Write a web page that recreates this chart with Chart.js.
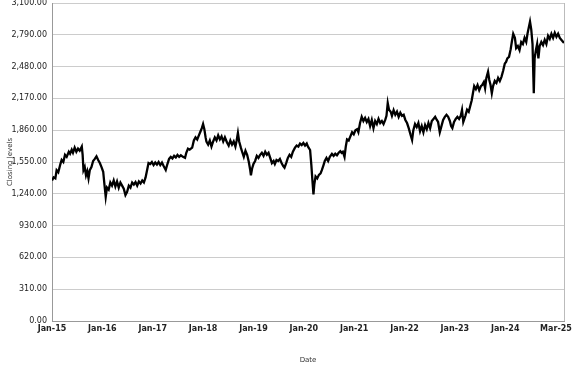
<!DOCTYPE html>
<html>
<head>
<meta charset="utf-8">
<script src="https://cdn.jsdelivr.net/npm/chart.js@4/dist/chart.umd.min.js"></script>
<style>
    html, body { margin: 0; padding: 0; background: #fff; }
    #wrap { width: 577px; height: 367px; position: relative; }
</style>
</head>
<body>
<div id="wrap"><canvas id="closing_chart"></canvas></div>
<script>
    // months counted from Jan-15 (0) to Mar-25 (122)
    var monthsSinceJan15 = [
        0, 0.4, 0.8, 1.1, 1.5, 2.0, 2.3, 2.7, 3.1, 3.5, 4.0, 4.3, 4.7, 5.0, 5.4, 5.8, 6.2, 6.6, 7.1, 7.3,
        7.5, 7.8, 8.1, 8.4, 8.7, 9.0, 9.4, 9.8, 10.2, 10.6, 11.0, 11.4, 11.8, 12.2, 12.5, 12.8, 13.1, 13.5, 13.9, 14.3,
        14.7, 15.1, 15.5, 15.9, 16.3, 16.7, 17.1, 17.5, 17.9, 18.3, 18.7, 19.1, 19.5, 19.9, 20.3, 20.7, 21.1, 21.5, 21.9, 22.3,
        22.7, 23.0, 23.4, 23.8, 24.2, 24.6, 25.0, 25.4, 25.8, 26.2, 26.6, 27.1, 27.5, 27.9, 28.3, 28.7, 29.1, 29.5, 29.9, 30.3,
        30.7, 31.2, 31.7, 32.0, 32.4, 32.8, 33.4, 33.8, 34.2, 34.6, 35.0, 35.4, 35.7, 36.0, 36.3, 36.6, 36.8, 37.2, 37.6, 38.0,
        38.4, 38.8, 39.2, 39.6, 40.0, 40.4, 40.8, 41.2, 41.7, 42.1, 42.5, 42.9, 43.3, 43.7, 44.0, 44.3, 44.6, 45.0, 45.3, 45.7,
        46.1, 46.5, 46.9, 47.2, 47.4, 47.7, 48.0, 48.4, 48.8, 49.2, 49.6, 50.0, 50.4, 50.8, 51.2, 51.6, 52.0, 52.4, 52.8, 53.1,
        53.5, 53.9, 54.3, 54.7, 55.1, 55.4, 55.8, 56.2, 56.6, 57.0, 57.4, 57.9, 58.3, 58.7, 59.1, 59.5, 59.9, 60.3, 60.7, 61.0,
        61.5, 61.8, 62.0, 62.3, 62.5, 62.8, 63.2, 63.6, 64.0, 64.3, 64.7, 65.0, 65.4, 65.8, 66.2, 66.7, 67.1, 67.5, 67.9, 68.3,
        68.7, 69.0, 69.3, 69.7, 70.0, 70.3, 70.7, 71.0, 71.5, 71.9, 72.3, 72.7, 73.0, 73.4, 73.8, 74.2, 74.6, 75.0, 75.4, 75.8,
        76.2, 76.6, 77.0, 77.4, 77.8, 78.2, 78.6, 79.0, 79.4, 79.7, 80.0, 80.3, 80.7, 81.0, 81.4, 81.8, 82.2, 82.6, 83.0, 83.4,
        83.8, 84.2, 84.6, 85.0, 85.4, 85.8, 86.1, 86.5, 86.9, 87.3, 87.7, 88.1, 88.5, 88.9, 89.3, 89.7, 90.1, 90.5, 90.9, 91.3,
        91.7, 92.0, 92.4, 92.8, 93.2, 93.6, 94.0, 94.4, 94.8, 95.1, 95.4, 95.8, 96.2, 96.6, 97.0, 97.4, 97.7, 98.0, 98.5, 98.9,
        99.3, 99.6, 100.0, 100.3, 100.6, 101.0, 101.4, 101.8, 102.2, 102.5, 102.9, 103.2, 103.5, 103.9, 104.2, 104.5, 104.8, 105.1, 105.5, 105.9,
        106.3, 106.7, 107.1, 107.5, 107.9, 108.2, 108.5, 108.9, 109.3, 109.6, 109.9, 110.3, 110.6, 111.0, 111.4, 111.8, 112.2, 112.6, 113.0, 113.3,
        113.6, 113.9, 114.2, 114.5, 114.7, 114.8, 115.0, 115.3, 115.6, 115.9, 116.2, 116.6, 117.0, 117.4, 117.8, 118.2, 118.6, 119.0, 119.4, 119.8,
        120.2, 120.6, 121.0, 121.4, 121.8, 122.0
    ];

    var closingLevels = [
        1370, 1400, 1390, 1470, 1450, 1530, 1570, 1550, 1620, 1600, 1650, 1630, 1670, 1640, 1690, 1650, 1680, 1660, 1700, 1620,
        1470, 1500, 1420, 1460, 1390, 1470, 1500, 1560, 1580, 1605, 1570, 1540, 1500, 1455, 1330, 1210, 1300, 1280, 1350, 1320,
        1370, 1310, 1360, 1300, 1350, 1320, 1290, 1228, 1260, 1320, 1300, 1350, 1330, 1355, 1320, 1360, 1340, 1370, 1350, 1400,
        1480, 1540, 1530, 1550, 1520, 1545, 1525, 1550, 1520, 1545, 1510, 1472, 1530, 1580, 1600, 1585, 1610, 1595, 1620, 1600,
        1615, 1600, 1590, 1640, 1680, 1670, 1690, 1760, 1790, 1770, 1810, 1850, 1880, 1920, 1870, 1790, 1748, 1720, 1760, 1700,
        1750, 1790, 1760, 1810, 1770, 1800, 1750, 1790, 1740, 1710, 1760, 1720, 1750, 1700, 1760, 1833, 1750, 1690, 1650, 1600,
        1660, 1620, 1550, 1480, 1420, 1490, 1530, 1560, 1610, 1590, 1620, 1640, 1610, 1650, 1620, 1640, 1590, 1540, 1560, 1530,
        1570, 1560, 1580, 1540, 1510, 1495, 1540, 1590, 1620, 1600, 1650, 1690, 1710, 1700, 1730, 1715, 1735, 1710, 1730, 1700,
        1667, 1520, 1400, 1235, 1330, 1410, 1390, 1425, 1440, 1470, 1520, 1560, 1590, 1560, 1600, 1630, 1610, 1630, 1615, 1640,
        1655, 1640, 1650, 1600, 1700, 1770, 1760, 1790, 1840, 1820, 1860, 1870, 1840, 1930, 1990, 1950, 1980, 1940, 1970, 1900,
        1960, 1880, 1950, 1920, 1970, 1930, 1950, 1920, 1960, 2000, 2125, 2060, 2040, 2000, 2055, 2010, 2040, 1990, 2030, 2000,
        2010, 1960, 1930, 1880, 1820, 1765, 1860, 1920, 1890, 1930, 1850, 1900, 1840, 1910, 1870, 1930, 1880, 1950, 1970, 1990,
        1960, 1940, 1840, 1900, 1960, 1990, 2010, 1990, 1950, 1900, 1880, 1940, 1970, 1990, 1970, 2000, 2057, 1940, 2000, 2060,
        2040, 2086, 2150, 2220, 2290, 2260, 2300, 2250, 2290, 2300, 2330, 2270, 2370, 2430, 2350, 2300, 2220, 2290, 2340, 2320,
        2370, 2340, 2380, 2440, 2510, 2525, 2560, 2575, 2650, 2730, 2800, 2760, 2660, 2680, 2640, 2720, 2700, 2760, 2720, 2800,
        2860, 2918, 2840, 2700, 2380, 2220, 2560, 2640, 2700, 2560, 2680, 2720, 2690, 2740, 2700, 2780, 2750, 2800, 2760, 2810,
        2770, 2800, 2760, 2740, 2720, 2730
    ];

    var tickMonths = [0, 12, 24, 36, 48, 60, 72, 84, 96, 108, 122];
    var tickLabels = ['Jan-15', 'Jan-16', 'Jan-17', 'Jan-18', 'Jan-19', 'Jan-20', 'Jan-21', 'Jan-22', 'Jan-23', 'Jan-24', 'Mar-25'];

    var points = monthsSinceJan15.map(function (m, i) {
        return { x: m, y: closingLevels[i] };
    });

    var canvas = document.getElementById('closing_chart');
    new Chart(canvas, {
        type: 'line',
        data: {
            datasets: [{
                label: 'Closing levels',
                data: points,
                borderColor: '#000',
                borderWidth: 2.3,
                pointRadius: 0,
                tension: 0,
                fill: false,
            }]
        },
        options: {
            responsive: true,
            maintainAspectRatio: false,
            animation: false,
            layout: { padding: { top: 3, right: 13, left: 0, bottom: 0 } },
            plugins: {
                legend: { display: false },
                tooltip: { enabled: false },
            },
            scales: {
                x: {
                    type: 'linear',
                    min: 0,
                    max: 122,
                    afterBuildTicks: function (axis) {
                        axis.ticks = tickMonths.map(function (v) { return { value: v }; });
                    },
                    afterFit: function (scale) {
                        scale.height = 46;
                        // don't let the end labels push the plot inwards
                        scale.paddingLeft = 0;
                        scale.paddingRight = 0;
                    },
                    grid: {
                        drawTicks: false,
                        color: function (ctx) {
                            return ctx.index === tickMonths.length - 1 ? '#bbb' : 'rgba(0,0,0,0)';
                        },
                    },
                    border: { color: '#999', width: 1 },
                    ticks: {
                        autoSkip: false,
                        maxRotation: 0,
                        padding: 3,
                        color: '#222',
                        font: { family: 'DejaVu Sans', size: 8, weight: 'bold' },
                        callback: function (value) {
                            var i = tickMonths.indexOf(value);
                            if (i < 0) return '';
                            // last label sits a little inside the canvas edge
                            return i === tickMonths.length - 1 ? tickLabels[i] + '\u2002\u2002\u2002\u2002' : tickLabels[i];
                        }
                    },
                    title: {
                        display: true,
                        text: 'Date',
                        color: '#333',
                        font: { family: 'DejaVu Sans', size: 7 },
                        padding: { top: 0, bottom: 3 },
                    }
                },
                y: {
                    min: 0,
                    max: 3100,
                    afterFit: function (scale) {
                        scale.width = 52;
                        scale.paddingTop = 0;
                        scale.paddingBottom = 0;
                    },
                    grid: { drawTicks: false, color: '#ccc' },
                    border: { color: '#999', width: 1 },
                    ticks: {
                        stepSize: 310,
                        padding: 5,
                        color: '#222',
                        font: { family: 'DejaVu Sans', size: 8 },
                        callback: function (value) {
                            return value.toLocaleString('en-US', { minimumFractionDigits: 2, maximumFractionDigits: 2 });
                        }
                    },
                    title: {
                        display: true,
                        text: 'Closing levels',
                        color: '#333',
                        font: { family: 'DejaVu Sans', size: 7 },
                        padding: { top: 6, bottom: 0 },
                    }
                }
            }
        }
    });
</script>
</body>
</html>
